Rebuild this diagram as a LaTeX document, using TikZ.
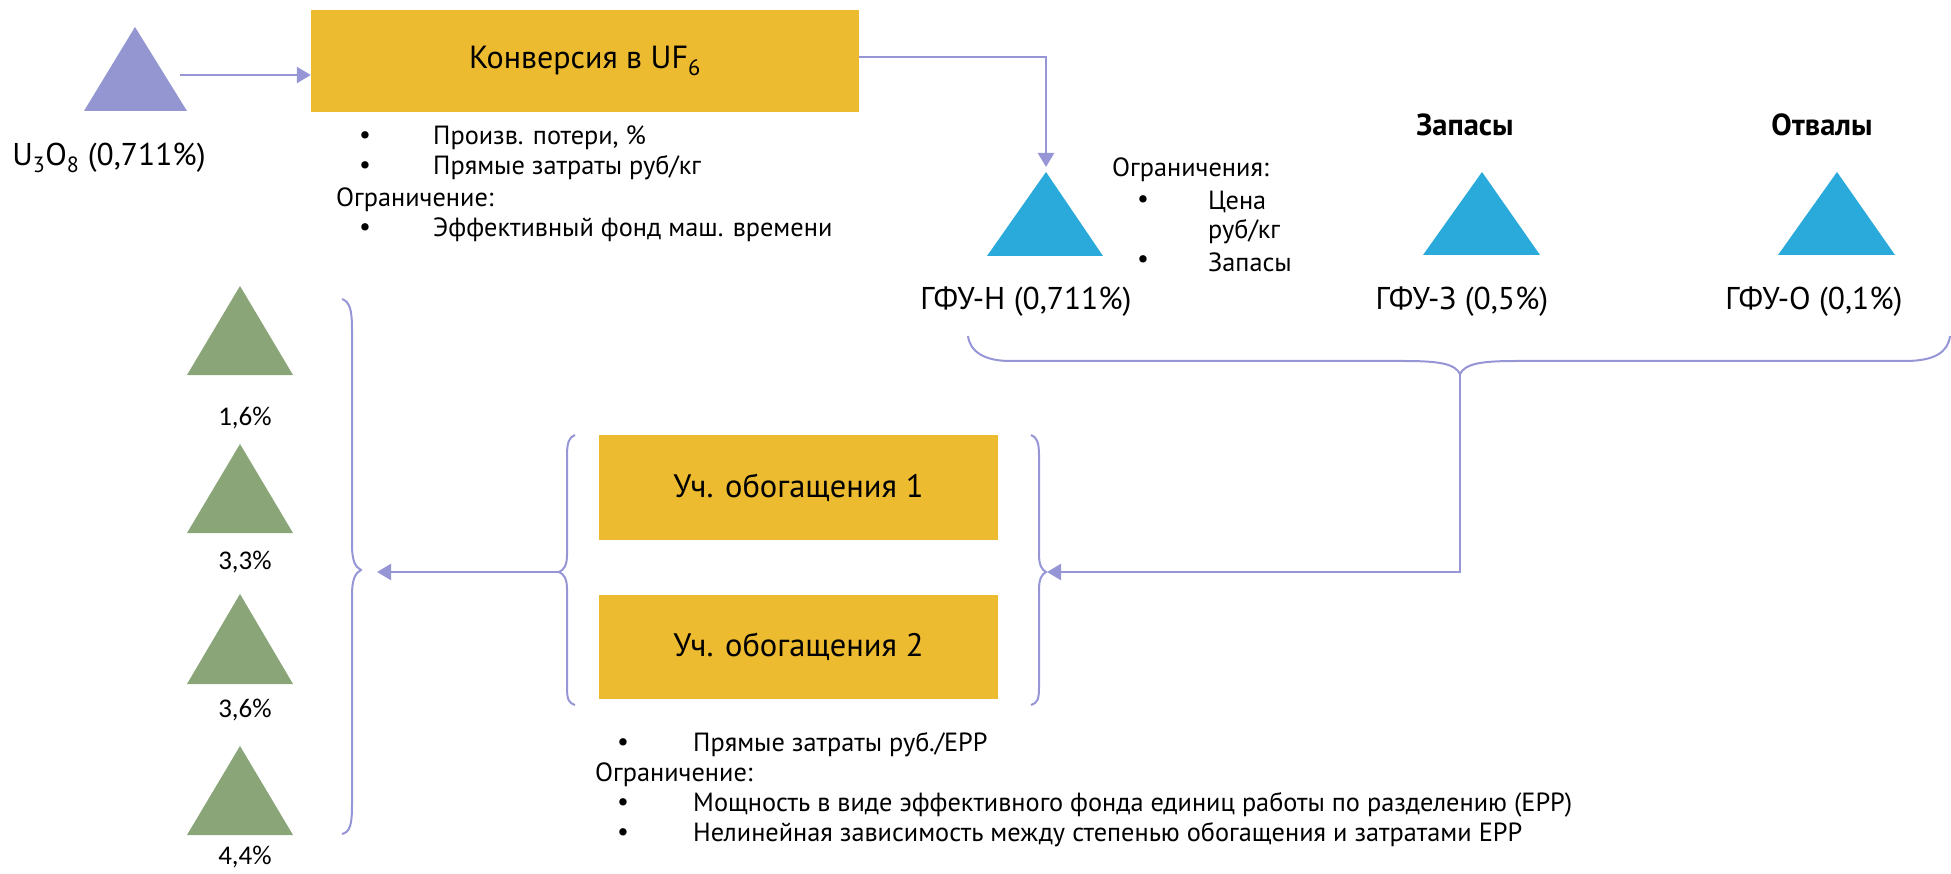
\documentclass[tikz,border=0pt]{standalone}
\usepackage{fontspec}
\setmainfont{PT Sans}
\newfontfamily\carlito{Carlito}
\usetikzlibrary{arrows.meta}
\definecolor{lav}{RGB}{150,150,215}
\definecolor{trip}{RGB}{148,150,210}
\definecolor{gold}{RGB}{237,187,48}
\definecolor{cyanb}{RGB}{41,170,218}
\definecolor{greent}{RGB}{138,165,120}
\begin{document}
\begin{tikzpicture}[x=1pt,y=-1pt,
 conn/.style={draw=lav, line width=2.5pt},
 arr/.style={conn, -{Triangle[length=14pt,width=16pt]}},
 brace/.style={draw=lav, line width=2pt},
 box/.style={fill=gold, draw=none, inner sep=0pt},
 boxtxt/.style={font=\fontsize{32}{38}\selectfont},
 lbl/.style={font=\fontsize{31.5}{37}\selectfont, inner sep=0pt},
 txt/.style={font=\fontsize{26.3}{31}\selectfont, inner sep=0pt, anchor=west},
 bul/.style={font=\fontsize{26.3}{31}\selectfont, inner sep=0pt},
 pct/.style={font=\carlito\fontsize{27}{32}\selectfont, inner sep=0pt},
 hdr/.style={font=\bfseries\fontsize{30.5}{36}\selectfont, inner sep=0pt},
]
\useasboundingbox (0,0) rectangle (1951,874);

% --- boxes
\node[box, boxtxt, minimum width=548pt, minimum height=102pt] (conv) at (585,61) {Конверсия в UF\textsubscript{6}};
\node[box, font=\fontsize{32.5}{38}\selectfont, minimum width=399pt, minimum height=105pt] (enr1) at (798.5,487.5) {Уч. обогащения 1};
\node[box, font=\fontsize{32.5}{38}\selectfont, minimum width=399pt, minimum height=104pt] (enr2) at (798.5,647) {Уч. обогащения 2};

% --- triangles
\fill[trip] (84,111) -- (135,27) -- (187,111) -- cycle;
\fill[cyanb] (987,256) -- (1046,172) -- (1103,256) -- cycle;
\fill[cyanb] (1423,255) -- (1482,172) -- (1540,255) -- cycle;
\fill[cyanb] (1778,255) -- (1837,172) -- (1895,255) -- cycle;
\foreach \t/\b in {286/375, 444/533, 594/684, 746/835}{
  \fill[greent] (187,\b) -- (240,\t) -- (293,\b) -- cycle;
}

% --- labels
\node[lbl] (u3o8l) at (109,158) {U\textsubscript{3}O\textsubscript{8} (0,711\%)};
\node[lbl] (gfunl) at (1026,302) {ГФУ-Н (0,711\%)};
\node[lbl] (gfuzl) at (1462,302) {ГФУ-З (0,5\%)};
\node[lbl] (gfuol) at (1814,302) {ГФУ-О (0,1\%)};
\node[hdr] (zap) at (1465,125) {Запасы};
\node[hdr] (otv) at (1822,125) {Отвалы};
\node[pct] (p1) at (245,418) {1,6\%};
\node[pct] (p2) at (245,562) {3,3\%};
\node[pct] (p3) at (245,710) {3,6\%};
\node[pct] (p4) at (245,857) {4,4\%};

% --- conversion notes
\node[bul] (c1b) at (365,138) {\textbullet};
\node[txt] (c1) at (433,138) {Произв. потери, \%};
\node[bul] (c2b) at (365,168) {\textbullet};
\node[txt] (c2) at (433,168) {Прямые затраты руб/кг};
\node[txt] (c3) at (336,200) {Ограничение:};
\node[bul] (c4b) at (365,230) {\textbullet};
\node[txt] (c4) at (433,230) {Эффективный фонд маш. времени};

% --- GFU-N notes
\node[txt] (n1) at (1112,170) {Ограничения:};
\node[bul] (n2b) at (1143,202) {\textbullet};
\node[txt] (n2) at (1208,202) {Цена};
\node[txt] (n3) at (1208,232) {руб/кг};
\node[bul] (n4b) at (1143,262) {\textbullet};
\node[txt] (n4) at (1208,262) {Запасы};

% --- enrichment notes
\node[bul] (e1b) at (623,745) {\textbullet};
\node[txt] (e1) at (693,745) {Прямые затраты руб./ЕРР};
\node[txt] (e2) at (595,775) {Ограничение:};
\node[bul] (e3b) at (623,805) {\textbullet};
\node[txt] (e3) at (693,805) {Мощность в виде эффективного фонда единиц работы по разделению (ЕРР)};
\node[bul] (e4b) at (623,835) {\textbullet};
\node[txt] (e4) at (693,835) {Нелинейная зависимость между степенью обогащения и затратами ЕРР};

% --- braces
\draw[brace] (968,336) .. controls (970,352) and (985,361) .. (1010,361) -- (1405,361)
  .. controls (1440,361) and (1455,364) .. (1460,374)
  .. controls (1465,364) and (1480,361) .. (1515,361) -- (1905,361)
  .. controls (1935,361) and (1948,352) .. (1950,336);
\draw[brace] (342,299) .. controls (350,302) and (352,310) .. (352,330) -- (352,545)
  .. controls (352,560) and (355,567) .. (361,570)
  .. controls (355,573) and (352,580) .. (352,595) -- (352,805)
  .. controls (352,825) and (350,832) .. (342,834);
\draw[brace] (575,435) .. controls (569,437) and (567,443) .. (567,455) -- (567,555)
  .. controls (567,565) and (564,570) .. (559,572)
  .. controls (564,574) and (567,579) .. (567,589) -- (567,688)
  .. controls (567,700) and (569,703) .. (575,705);
\draw[brace] (1031,435) .. controls (1037,437) and (1039,443) .. (1039,455) -- (1039,555)
  .. controls (1039,565) and (1042,570) .. (1046,572)
  .. controls (1042,574) and (1039,579) .. (1039,589) -- (1039,688)
  .. controls (1039,700) and (1037,703) .. (1031,705);

% --- connector endpoints
\coordinate (a1) at (180,75);
\coordinate (gfun) at (1046,167);
\coordinate (btip) at (1460,374);
\coordinate (ebr) at (1047,572);
\coordinate (ebl) at (559,572);
\coordinate (gend) at (377,572);

% --- connectors
\draw[arr] (a1) -- (a1 -| conv.west);
\draw[arr] ([yshift=4pt]conv.east) -| (gfun);
\draw[arr] (btip) |- (ebr);
\draw[arr] (ebl) -- (gend);
\end{tikzpicture}
\end{document}
